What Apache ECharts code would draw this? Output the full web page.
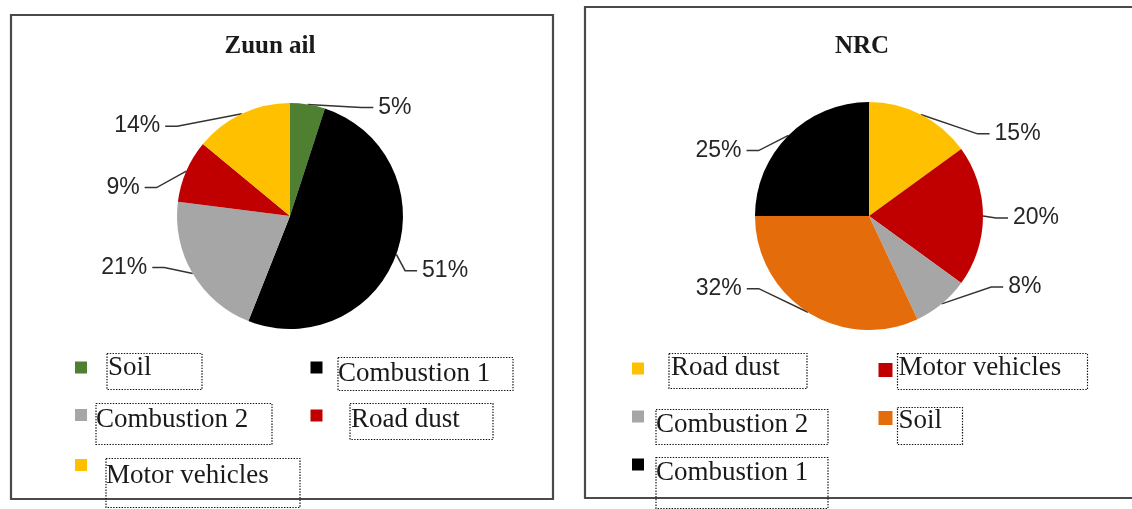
<!DOCTYPE html>
<html>
<head>
<meta charset="utf-8">
<script src="https://cdn.jsdelivr.net/npm/echarts@6/dist/echarts.min.js"></script>
<style>
  html, body { margin: 0; padding: 0; background: #fff; overflow: hidden; }
  .layer { position: absolute; left: 0; top: 0; width: 1132px; height: 509px; }
</style>
</head>
<body>
<div id="zuun" class="layer"></div>
<div id="nrc" class="layer"></div>
<script>
// Source apportionment shares (%) at the two sites
const zuunTitle = 'Zuun ail';
const zuunSources = ['Soil', 'Combustion 1', 'Combustion 2', 'Road dust', 'Motor vehicles'];
const zuunShares = [5, 51, 21, 9, 14];

const nrcTitle = 'NRC';
const nrcSources = ['Road dust', 'Motor vehicles', 'Combustion 2', 'Soil', 'Combustion 1'];
const nrcShares = [15, 20, 8, 32, 25];

// Slice colours, in the same order as the sources
const zuunColors = ['#4F7F30', '#000000', '#A6A6A6', '#C00000', '#FFC000'];
const nrcColors = ['#FFC000', '#C00000', '#A6A6A6', '#E46C0A', '#000000'];

// Panel geometry
const zuunPanel = {
  frame: [11, 15, 542, 484],
  titleAt: [270, 47],
  center: [290, 216],
  radius: 113,
  // per slice: [length2 of leader, vertical nudge of the label]
  leader: [[65, 7], [17, 15], [37, -8], [38, 18], [75, 16]],
  // per legend entry: marker centre x, y, marker size, box left, top, width, height, text inset, text centre from box top
  legend: [
    [81, 367, 12, 107, 353, 95, 36, 1, 14.5],
    [316.5, 367, 12, 338, 357, 175, 33, 0, 16],
    [81, 414.5, 12, 96, 403, 176, 41, 0, 16],
    [316.5, 415, 12, 350, 403, 143, 36, 1, 16],
    [81, 464.5, 12, 106, 458, 194, 49, 0, 17]
  ]
};

const nrcPanel = {
  frame: [585, 7, 560, 491],
  titleAt: [862, 47],
  center: [869, 216],
  radius: 114,
  leader: [[67, 23], [21, 2], [59, -20], [59, -27], [39, 18]],
  legend: [
    [638, 368, 12, 669, 353, 138, 35, 2, 14],
    [885.5, 369.5, 14, 895, 353, 190, 36, 1, 14.5],
    [638, 416, 12, 656, 409, 172, 35, 0, 15],
    [885.5, 417.5, 14, 895, 407, 65, 37, 1, 13.5],
    [638, 464, 12, 656, 457, 172, 51, 0, 15]
  ]
};

const SERIF = '"Liberation Serif", "Times New Roman", serif';
const SANS = '"Liberation Sans", Arial, sans-serif';
const LEGEND_FONT = 27;

// One legend component per entry: coloured square plus a dotted text box
function buildLegends(names, layout) {
  return names.map(function (name, i) {
    const [mx, my, ms, bx, by, bw, bh, tx, ty] = layout[i];
    const iconLeft = mx - ms / 2;
    const textStart = iconLeft + ms + 5;
    const gap = Math.max(0, bx - textStart);
    const offset = (by + bh / 2) - my;
    const spacer = Math.max(1, Math.abs(offset) * 2);
    const padTop = Math.max(0, ty - LEGEND_FONT / 2);
    const padBottom = Math.max(0, bh - LEGEND_FONT - padTop);
    const boxLine = (gap > 0 ? '{g| }' : '') + '{b|' + name + '}';
    const text = offset >= 0 ? '{s| }\n' + boxLine : boxLine + '\n{s| }';
    return {
      left: iconLeft,
      top: my - bh / 2,
      padding: 0,
      itemWidth: ms,
      itemHeight: ms,
      icon: 'rect',
      selectedMode: false,
      data: [name],
      formatter: function () { return text; },
      textStyle: {
        rich: {
          g: { width: gap, height: 1, fontSize: 1 },
          s: { width: 1, height: spacer, fontSize: 1 },
          b: {
            fontFamily: SERIF,
            fontSize: LEGEND_FONT,
            color: '#1a1a1a',
            width: bw - tx,
            height: LEGEND_FONT,
            padding: [padTop, 0, padBottom, tx],
            borderColor: '#111',
            borderWidth: 1.2,
            borderType: [1.4, 1.4]
          }
        }
      }
    };
  });
}

function buildOption(title, names, values, colors, panel) {
  const data = names.map(function (name, i) {
    return {
      name: name,
      value: values[i],
      itemStyle: { color: colors[i] },
      labelLine: { length: 4, length2: panel.leader[i][0] }
    };
  });
  const [fx, fy, fw, fh] = panel.frame;
  return {
    animation: false,
    graphic: [
      {
        type: 'rect',
        shape: { x: fx, y: fy, width: fw, height: fh },
        style: { fill: 'none', stroke: '#4a4a4a', lineWidth: 2.2 },
        silent: true
      },
      {
        type: 'text',
        x: panel.titleAt[0],
        y: panel.titleAt[1],
        style: {
          text: title,
          align: 'center',
          verticalAlign: 'middle',
          font: 'bold 25px ' + SERIF,
          fill: '#1a1a1a'
        },
        silent: true
      }
    ],
    legend: buildLegends(names, panel.legend),
    series: [{
      type: 'pie',
      center: panel.center,
      radius: panel.radius,
      startAngle: 90,
      clockwise: true,
      avoidLabelOverlap: false,
      silent: true,
      itemStyle: { borderWidth: 0 },
      label: {
        show: true,
        position: 'outside',
        formatter: function (p) { return p.value + '%'; },
        fontFamily: SANS,
        fontSize: 23,
        color: '#262626',
        distanceToLabelLine: 5
      },
      labelLine: {
        show: true,
        lineStyle: { color: '#333333', width: 1.5 }
      },
      labelLayout: function (p) {
        const dy = panel.leader[p.dataIndex][1];
        const pts = p.labelLinePoints;
        if (!pts || pts.length < 2) return { dy: dy };
        const start = pts[0];
        const end = pts[pts.length - 1];
        const dir = end[0] >= start[0] ? 1 : -1;
        const ey = end[1] + dy;
        return {
          dy: dy,
          labelLinePoints: [start, [end[0] - dir * 12, ey], [end[0], ey]]
        };
      },
      data: data
    }]
  };
}

const zuunChart = echarts.init(document.getElementById('zuun'), null, { renderer: 'canvas' });
zuunChart.setOption(buildOption(zuunTitle, zuunSources, zuunShares, zuunColors, zuunPanel));

const nrcChart = echarts.init(document.getElementById('nrc'), null, { renderer: 'canvas' });
nrcChart.setOption(buildOption(nrcTitle, nrcSources, nrcShares, nrcColors, nrcPanel));
</script>
</body>
</html>
